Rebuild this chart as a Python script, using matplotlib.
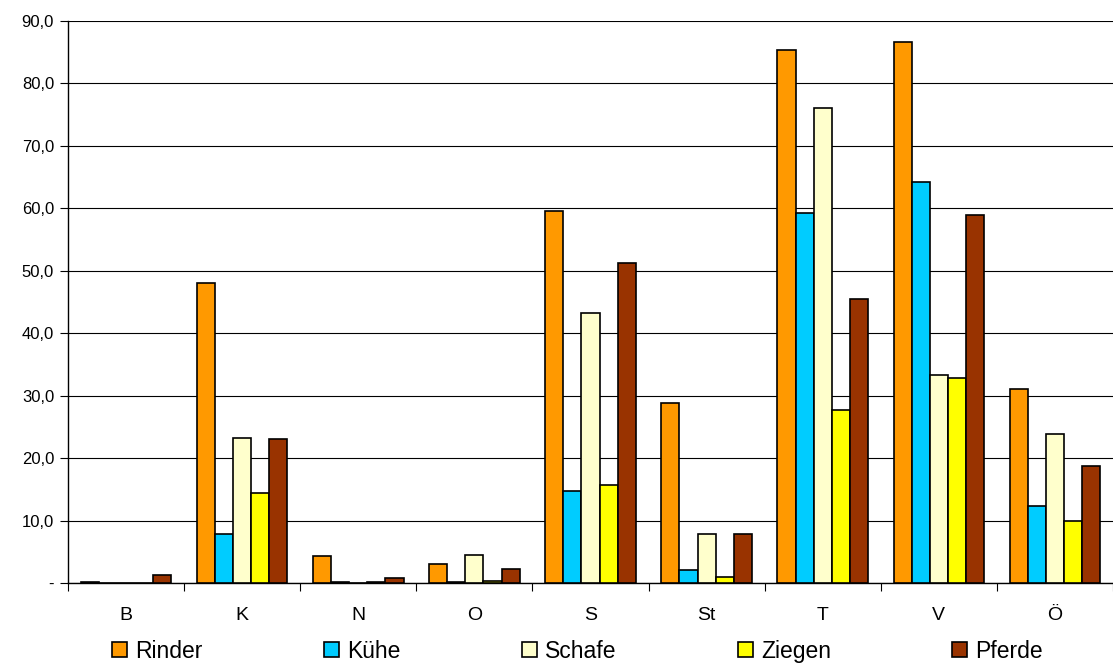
import numpy as np
import matplotlib.pyplot as plt
from matplotlib.ticker import FixedLocator

plt.rcParams["font.family"] = ["Liberation Sans", "DejaVu Sans"]

# ============================================================
# DATA
# ============================================================

regions = ["B", "K", "N", "O", "S", "St", "T", "V", "Ö"]
rinder = [0.1, 48.0, 4.3, 3.0, 59.5, 28.9, 85.4, 86.7, 31.0]
kuehe = [0.0, 7.8, 0.1, 0.1, 14.8, 2.1, 59.2, 64.2, 12.3]
schafe = [0.0, 23.2, 0.0, 4.5, 43.3, 7.9, 76.0, 33.3, 23.9]
ziegen = [0.0, 14.4, 0.2, 0.3, 15.7, 0.9, 27.7, 32.9, 10.0]
pferde = [1.3, 23.0, 0.8, 2.3, 51.3, 7.9, 45.4, 59.0, 18.7]

series_names = ["Rinder", "Kühe", "Schafe", "Ziegen", "Pferde"]
series_values = [rinder, kuehe, schafe, ziegen, pferde]
colors = ["#FF9900", "#00CCFF", "#FFFFCC", "#FFFF00", "#993300"]

y_ticks = [0, 10, 20, 30, 40, 50, 60, 70, 80, 90]

# ============================================================
# PLOT
# ============================================================

fig = plt.figure(figsize=(11.13, 6.66), dpi=100)
ax = fig.add_axes([0.0611, 0.1246, 0.9389, 0.8439])

x = np.arange(len(regions))
bar_w = 0.156
offsets = (np.arange(len(series_names)) - 2) * bar_w

for name, vals, col, off in zip(series_names, series_values, colors, offsets):
    ax.bar(x + off, vals, width=bar_w, color=col, edgecolor="black",
           linewidth=1.2, label=name, zorder=3)

ax.set_xlim(-0.5, len(regions) - 0.5)
ax.set_ylim(0, 90)

ax.set_yticks(y_ticks)
ax.set_yticklabels(["-" if v == 0 else f"{v:.1f}".replace(".", ",") for v in y_ticks],
                   fontsize=12)
ax.yaxis.grid(True, color="black", linewidth=0.8, zorder=0)
ax.set_axisbelow(True)

# category boundaries as tick marks, labels centred between them
ax.xaxis.set_major_locator(FixedLocator(np.arange(len(regions) + 1) - 0.5))
ax.set_xticklabels([])
ax.xaxis.set_minor_locator(FixedLocator(x))
ax.set_xticklabels(regions, minor=True, fontsize=14)
ax.tick_params(axis="x", which="minor", length=0, pad=17)
ax.tick_params(axis="x", which="major", length=6, width=0.8, direction="out")
ax.tick_params(axis="y", length=6, width=0.8, direction="out", pad=4)

for side in ["top", "right"]:
    ax.spines[side].set_visible(False)
for side in ["left", "bottom"]:
    ax.spines[side].set_linewidth(1.0)
    ax.spines[side].set_color("black")

fig.legend(loc="center", bbox_to_anchor=(0.519, 0.0225), ncol=5, frameon=False,
           fontsize=16.5, handlelength=0.655, handleheight=0.655, handletextpad=0.35,
           columnspacing=5.3)

plt.savefig("out.png", dpi=100)
plt.close()
